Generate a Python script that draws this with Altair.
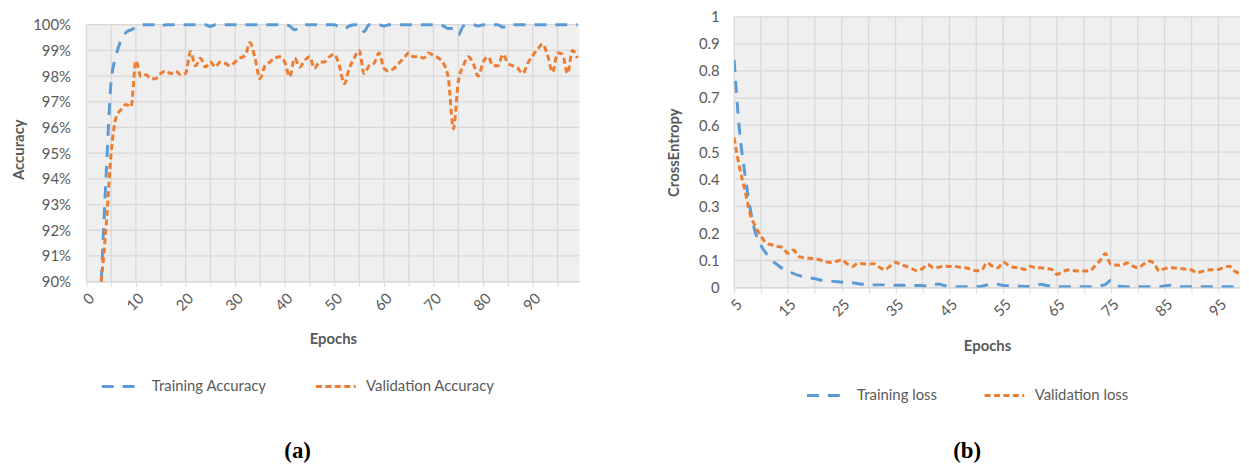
import altair as alt
import pandas as pd

# ---------------- data ----------------
acc_epochs = list(range(3, 100))
train_acc = [
    90.0, 94.2, 97.8, 98.8, 99.4, 99.7, 99.8, 99.9, 100, 100,          # 3-12
    100, 100, 99.93, 100, 100, 100, 100, 100, 100, 100,                # 13-22
    100, 100, 99.93, 100, 100, 100, 100, 100, 100, 100,                # 23-32
    100, 100, 100, 100, 100, 100, 100, 100, 99.95, 99.8,               # 33-42
    99.9, 100, 100, 100, 100, 100, 100, 100, 99.9, 99.85,              # 43-52
    99.95, 100, 100, 99.73, 100, 100, 100, 99.95, 100, 100,            # 53-62
    100, 100, 100, 100, 100, 100, 100, 100, 100, 99.95,                # 63-72
    99.85, 99.85, 99.6, 99.95, 100, 100, 99.95, 100, 100, 100,         # 73-82
    100, 99.9, 100, 100, 100, 100, 100, 100, 100, 100,                 # 83-92
    100, 100, 100, 100, 100, 100, 100,                                 # 93-99
]
val_acc = [
    90.0, 92.2, 95.0, 96.4, 96.7, 96.9, 96.8, 98.6, 97.98, 98.05,      # 3-12
    97.9, 97.9, 98.1, 98.2, 98.1, 98.2, 98.05, 98.1, 98.95, 98.4,      # 13-22
    98.7, 98.35, 98.55, 98.35, 98.55, 98.5, 98.4, 98.55, 98.7, 98.8,   # 23-32
    99.3, 98.7, 97.9, 98.4, 98.55, 98.7, 98.75, 98.55, 97.98, 98.7,    # 33-42
    98.35, 98.6, 98.75, 98.3, 98.55, 98.55, 98.75, 98.85, 98.4, 97.7,  # 43-52
    98.3, 98.7, 99.0, 98.1, 98.4, 98.5, 98.9, 98.3, 98.2, 98.3,        # 53-62
    98.5, 98.7, 98.9, 98.75, 98.75, 98.7, 98.9, 98.8, 98.7, 98.5,      # 63-72
    97.9, 95.95, 97.8, 98.4, 98.75, 98.5, 98.0, 98.55, 98.75, 98.4,    # 73-82
    98.4, 98.85, 98.5, 98.4, 98.3, 98.1, 98.5, 98.8, 99.05, 99.25,     # 83-92
    98.8, 98.15, 98.9, 98.85, 98.1, 99.0, 98.7,                        # 93-99
]

loss_epochs = list(range(5, 100))
train_loss = [
    0.84, 0.58, 0.42, 0.29, 0.2, 0.155, 0.125, 0.1, 0.085, 0.07,           # 5-14
    0.062, 0.052, 0.045, 0.04, 0.036, 0.033, 0.028, 0.026, 0.024, 0.022,   # 15-24
    0.02, 0.02, 0.018, 0.014, 0.012, 0.011, 0.01, 0.01, 0.01, 0.009,       # 25-34
    0.009, 0.009, 0.008, 0.008, 0.008, 0.007, 0.006, 0.01, 0.013, 0.008,   # 35-44
    0.005, 0.004, 0.003, 0.003, 0.003, 0.003, 0.005, 0.01, 0.013, 0.012,   # 45-54
    0.008, 0.007, 0.006, 0.005, 0.004, 0.004, 0.008, 0.012, 0.008, 0.004,  # 55-64
    0.003, 0.003, 0.003, 0.003, 0.003, 0.003, 0.003, 0.003, 0.006, 0.012,  # 65-74
    0.026, 0.008, 0.004, 0.003, 0.003, 0.003, 0.003, 0.003, 0.003, 0.003,  # 75-84
    0.006, 0.009, 0.005, 0.003, 0.003, 0.003, 0.003, 0.003, 0.003, 0.003,  # 85-94
    0.003, 0.003, 0.003, 0.003, 0.003,                                     # 95-99
]
val_loss = [
    0.554, 0.444, 0.36, 0.27, 0.225, 0.19, 0.164, 0.158, 0.152, 0.148,     # 5-14
    0.127, 0.139, 0.115, 0.11, 0.108, 0.107, 0.102, 0.095, 0.093, 0.097,   # 15-24
    0.102, 0.088, 0.078, 0.09, 0.088, 0.087, 0.088, 0.075, 0.066, 0.08,    # 25-34
    0.093, 0.085, 0.078, 0.07, 0.062, 0.07, 0.085, 0.073, 0.075, 0.08,     # 35-44
    0.078, 0.078, 0.075, 0.073, 0.068, 0.062, 0.065, 0.092, 0.079, 0.073,  # 45-54
    0.094, 0.082, 0.075, 0.073, 0.067, 0.079, 0.073, 0.073, 0.07, 0.067,   # 55-64
    0.049, 0.058, 0.065, 0.063, 0.061, 0.061, 0.061, 0.079, 0.1, 0.126,    # 65-74
    0.085, 0.083, 0.082, 0.091, 0.08, 0.073, 0.085, 0.098, 0.09, 0.061,    # 75-84
    0.07, 0.073, 0.072, 0.07, 0.068, 0.065, 0.055, 0.06, 0.065, 0.066,     # 85-94
    0.067, 0.075, 0.079, 0.061, 0.05,                                      # 95-99
]

acc_series = ["Training Accuracy", "Validation Accuracy"]
loss_series = ["Training loss", "Validation loss"]
acc_x_ticks = list(range(0, 100, 5))
acc_y_ticks = list(range(90, 101))
loss_x_ticks = list(range(5, 100, 5))
loss_y_ticks = [i / 10 for i in range(11)]

BLUE = "#5b9bd5"
ORANGE = "#ed7d31"
GRID = "#d9d9d9"
PLOTBG = "#efefef"
TXT = "#595959"
DASHES = [[12, 9], [6, 3.5]]
FS = 15


def legend(title, lx, ly, tpad, colpad):
    return alt.Legend(
        orient="none", legendX=lx, legendY=ly, direction="horizontal",
        title=title, titleOrient="bottom", titleAnchor="middle",
        titleFont="Liberation Serif", titleFontSize=23, titleFontWeight="bold",
        titleColor="black", titlePadding=tpad,
        labelFont="Lato", labelFontSize=FS, labelColor=TXT, labelOffset=9,
        symbolType="stroke", symbolSize=1600, symbolStrokeWidth=3,
        columnPadding=colpad,
    )


def panel(epochs, s1, s2, series, x_ticks, y_ticks, x_dom, y_dom, xaxis, yaxis, leg):
    df = pd.DataFrame({
        "Epoch": epochs + epochs,
        "Value": s1 + s2,
        "Series": [series[0]] * len(epochs) + [series[1]] * len(epochs),
    })
    xs = alt.Scale(domain=x_dom, nice=False, zero=False)
    ys = alt.Scale(domain=y_dom, nice=False, zero=False)
    x_lo, x_hi = x_dom
    y_lo, y_hi = y_ticks[0], y_ticks[-1]

    bg = alt.Chart(pd.DataFrame({"a": [x_lo], "b": [x_hi], "c": [y_lo], "d": [y_hi]})).mark_rect(
        color=PLOTBG).encode(
        x=alt.X("a:Q", scale=xs, axis=xaxis), x2="b:Q",
        y=alt.Y("c:Q", scale=ys, axis=yaxis), y2="d:Q")
    vgrid = alt.Chart(pd.DataFrame({"t": x_ticks})).mark_rule(color=GRID, strokeWidth=1.3).encode(
        x=alt.X("t:Q", scale=xs, axis=xaxis),
        y=alt.Y(datum=y_lo, scale=ys, axis=yaxis), y2=alt.datum(y_hi))
    hgrid = alt.Chart(pd.DataFrame({"t": y_ticks})).mark_rule(color=GRID, strokeWidth=1.3).encode(
        y=alt.Y("t:Q", scale=ys, axis=yaxis),
        x=alt.X(datum=x_lo, scale=xs, axis=xaxis), x2=alt.datum(x_hi))
    lines = alt.Chart(df).mark_line(strokeWidth=3, clip=True, interpolate="monotone").encode(
        x=alt.X("Epoch:Q", scale=xs, axis=xaxis),
        y=alt.Y("Value:Q", scale=ys, axis=yaxis),
        color=alt.Color("Series:N", scale=alt.Scale(domain=series, range=[BLUE, ORANGE]), legend=leg),
        strokeDash=alt.StrokeDash("Series:N", scale=alt.Scale(domain=series, range=DASHES), legend=leg),
    )
    return alt.layer(bg, vgrid, hgrid, lines)


acc_xaxis = alt.Axis(values=acc_x_ticks, title="Epochs", grid=False,
                     labelExpr="datum.value % 10 == 0 ? datum.label : ''",
                     labelAngle=-45, labelOverlap=False, labelFlush=False,
                     tickSize=5, tickColor=GRID, domainColor=GRID,
                     labelPadding=4, titlePadding=18)
acc_yaxis = alt.Axis(values=acc_y_ticks, title="Accuracy", grid=False,
                     labelExpr="datum.value + '%'", labelFlush=False, labelOverlap=False,
                     ticks=False, tickSize=0, domain=False,
                     labelPadding=16, titlePadding=6)
left = panel(acc_epochs, train_acc, val_acc, acc_series, acc_x_ticks, acc_y_ticks,
             [0, 99.4], [90, 100.309], acc_xaxis, acc_yaxis,
             legend("(a)", 14, 351, 46, 43)).properties(width=497, height=267)

loss_xaxis = alt.Axis(values=loss_x_ticks, title="Epochs", grid=False,
                      labelExpr="(datum.value - 5) % 10 == 0 ? datum.label : ''",
                      labelAngle=-45, labelOverlap=False, labelFlush=False,
                      tickSize=5, tickColor=GRID, domainColor=GRID,
                      labelPadding=4, titlePadding=20)
loss_yaxis = alt.Axis(values=loss_y_ticks, title="CrossEntropy", grid=False, format=".1~f",
                      labelFlush=False, labelOverlap=False, ticks=False, tickSize=0, domain=False,
                      labelPadding=15, titlePadding=17)
right = panel(loss_epochs, train_loss, val_loss, loss_series, loss_x_ticks, loss_y_ticks,
              [5, 99], [0, 1], loss_xaxis, loss_yaxis,
              legend("(b)", 72, 360, 37, 41)).properties(width=510, height=273)

chart = alt.hconcat(left, right, spacing=87).resolve_scale(
    color="independent", strokeDash="independent"
).resolve_legend(color="independent", strokeDash="independent").properties(
    padding={"left": 3, "top": 0, "right": 0, "bottom": 0}
).configure_view(strokeWidth=0).configure_axis(
    labelFont="Lato", labelFontSize=FS, labelColor=TXT,
    titleFont="Lato", titleFontSize=FS, titleFontWeight="bold", titleColor=TXT,
)

chart.save("out.html", embed_options={"renderer": "svg", "actions": False})
